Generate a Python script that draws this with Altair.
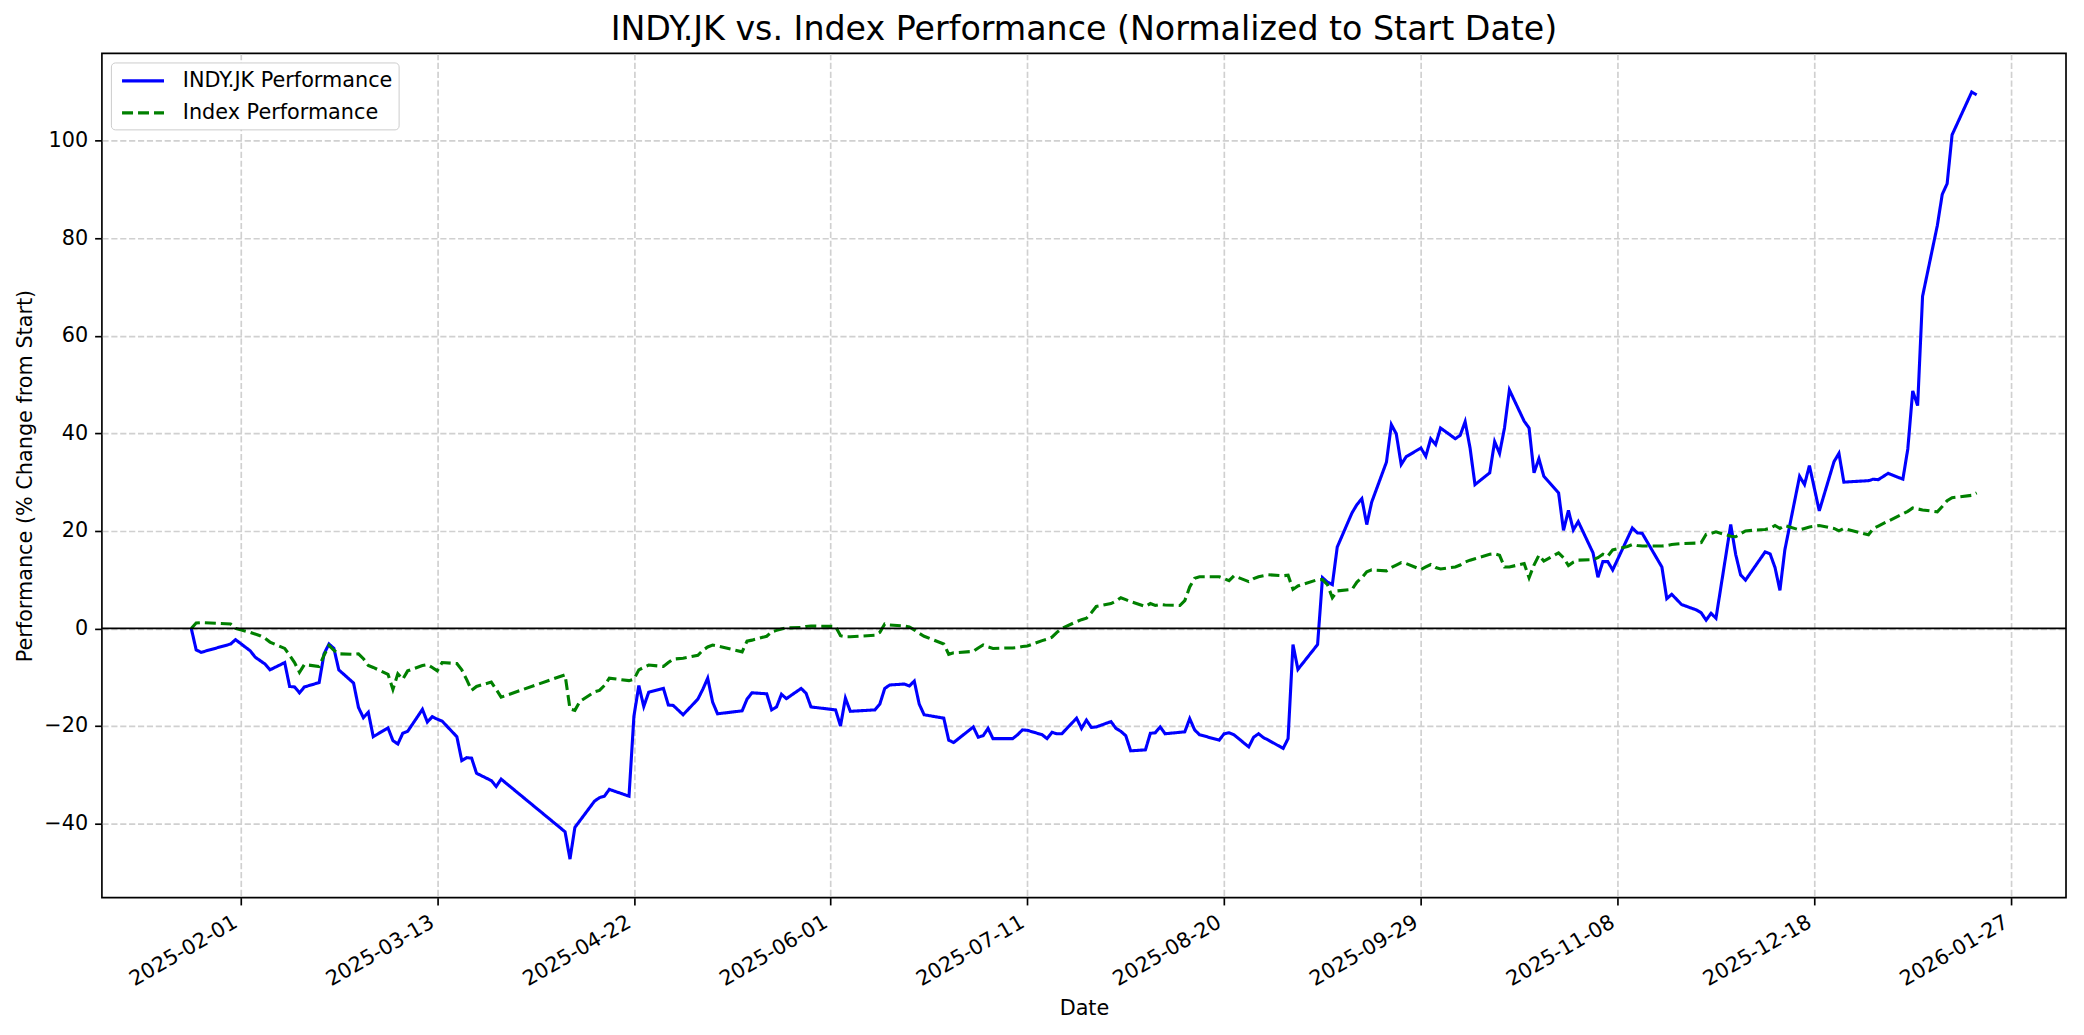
import altair as alt
import pandas as pd

STOCK = "INDY.JK Performance"
INDEX = "Index Performance"

stock_dates = [
    "2025-01-22", "2025-01-23", "2025-01-24", "2025-01-30", "2025-01-31", "2025-02-03", "2025-02-04",
    "2025-02-05", "2025-02-06", "2025-02-07", "2025-02-10", "2025-02-11", "2025-02-12", "2025-02-13",
    "2025-02-14", "2025-02-17", "2025-02-18", "2025-02-19", "2025-02-20", "2025-02-21", "2025-02-24",
    "2025-02-25", "2025-02-26", "2025-02-27", "2025-02-28", "2025-03-03", "2025-03-04", "2025-03-05",
    "2025-03-06", "2025-03-07", "2025-03-10", "2025-03-11", "2025-03-12", "2025-03-13", "2025-03-14",
    "2025-03-17", "2025-03-18", "2025-03-19", "2025-03-20", "2025-03-21", "2025-03-24", "2025-03-25",
    "2025-03-26", "2025-04-08", "2025-04-09", "2025-04-10", "2025-04-14", "2025-04-15", "2025-04-16",
    "2025-04-17", "2025-04-21", "2025-04-22", "2025-04-23", "2025-04-24", "2025-04-25", "2025-04-28",
    "2025-04-29", "2025-04-30", "2025-05-02", "2025-05-05", "2025-05-06", "2025-05-07", "2025-05-08",
    "2025-05-09", "2025-05-14", "2025-05-15", "2025-05-16", "2025-05-19", "2025-05-20", "2025-05-21",
    "2025-05-22", "2025-05-23", "2025-05-26", "2025-05-27", "2025-05-28", "2025-06-02", "2025-06-03",
    "2025-06-04", "2025-06-05", "2025-06-10", "2025-06-11", "2025-06-12", "2025-06-13", "2025-06-16",
    "2025-06-17", "2025-06-18", "2025-06-19", "2025-06-20", "2025-06-24", "2025-06-25", "2025-06-26",
    "2025-06-30", "2025-07-01", "2025-07-02", "2025-07-03", "2025-07-04", "2025-07-07", "2025-07-08",
    "2025-07-09", "2025-07-10", "2025-07-11", "2025-07-14", "2025-07-15", "2025-07-16", "2025-07-17",
    "2025-07-18", "2025-07-21", "2025-07-22", "2025-07-23", "2025-07-24", "2025-07-25", "2025-07-28",
    "2025-07-29", "2025-07-30", "2025-07-31", "2025-08-01", "2025-08-04", "2025-08-05", "2025-08-06",
    "2025-08-07", "2025-08-08", "2025-08-11", "2025-08-12", "2025-08-13", "2025-08-14", "2025-08-15",
    "2025-08-19", "2025-08-20", "2025-08-21", "2025-08-22", "2025-08-25", "2025-08-26", "2025-08-27",
    "2025-08-28", "2025-08-29", "2025-09-01", "2025-09-02", "2025-09-03", "2025-09-04", "2025-09-08",
    "2025-09-09", "2025-09-10", "2025-09-11", "2025-09-12", "2025-09-15", "2025-09-16", "2025-09-17",
    "2025-09-18", "2025-09-19", "2025-09-22", "2025-09-23", "2025-09-24", "2025-09-25", "2025-09-26",
    "2025-09-29", "2025-09-30", "2025-10-01", "2025-10-02", "2025-10-03", "2025-10-06", "2025-10-07",
    "2025-10-08", "2025-10-09", "2025-10-10", "2025-10-13", "2025-10-14", "2025-10-15", "2025-10-16",
    "2025-10-17", "2025-10-20", "2025-10-21", "2025-10-22", "2025-10-23", "2025-10-24", "2025-10-27",
    "2025-10-28", "2025-10-29", "2025-10-30", "2025-10-31", "2025-11-03", "2025-11-04", "2025-11-05",
    "2025-11-06", "2025-11-07", "2025-11-11", "2025-11-12", "2025-11-13", "2025-11-17", "2025-11-18",
    "2025-11-19", "2025-11-21", "2025-11-24", "2025-11-25", "2025-11-26", "2025-11-27", "2025-11-28",
    "2025-12-01", "2025-12-02", "2025-12-03", "2025-12-04", "2025-12-08", "2025-12-09", "2025-12-10",
    "2025-12-11", "2025-12-12", "2025-12-15", "2025-12-16", "2025-12-17", "2025-12-19", "2025-12-22",
    "2025-12-23", "2025-12-24", "2025-12-29", "2025-12-30", "2025-12-31", "2026-01-02", "2026-01-05",
    "2026-01-06", "2026-01-07", "2026-01-08", "2026-01-09", "2026-01-12", "2026-01-13", "2026-01-14",
    "2026-01-15", "2026-01-19", "2026-01-20",
]
stock_values = [
    0.0, -4.4, -4.9, -3.2, -2.3, -4.6, -5.9,
    -6.6, -7.3, -8.5, -7.0, -11.9, -12.0, -13.2,
    -12.0, -11.1, -5.2, -3.2, -4.1, -8.5, -11.2,
    -16.2, -18.3, -17.2, -22.2, -20.4, -23.0, -23.7,
    -21.5, -21.1, -16.6, -19.2, -18.1, -18.6, -19.0,
    -22.2, -27.1, -26.5, -26.6, -29.7, -31.2, -32.4,
    -30.9, -41.7, -47.3, -40.8, -35.4, -34.7, -34.4,
    -33.0, -34.4, -18.0, -11.7, -16.0, -13.1, -12.3,
    -15.7, -15.8, -17.7, -14.5, -12.5, -10.2, -15.1,
    -17.5, -16.9, -14.5, -13.2, -13.4, -16.7, -16.1,
    -13.5, -14.4, -12.3, -13.3, -16.1, -16.7, -20.0,
    -14.3, -17.0, -16.7, -15.5, -12.3, -11.6, -11.4,
    -11.8, -10.8, -15.5, -17.7, -18.4, -22.9, -23.4,
    -20.2, -22.3, -22.0, -20.5, -22.6, -22.6, -22.6,
    -21.8, -20.8, -20.9, -21.8, -22.6, -21.3, -21.6,
    -21.6, -18.4, -20.5, -18.8, -20.3, -20.2, -19.1,
    -20.5, -21.1, -22.0, -25.1, -24.9, -21.5, -21.4,
    -20.2, -21.6, -21.3, -21.2, -18.5, -20.8, -21.8,
    -22.9, -21.6, -21.4, -21.8, -24.3, -22.3, -21.6,
    -22.4, -22.9, -24.6, -22.6, -3.3, -8.4, -3.3,
    10.4, 9.5, 9.0, 16.7, 23.7, 25.4, 26.6,
    21.3, 25.9, 34.1, 41.8, 39.9, 33.6, 35.2,
    37.0, 35.3, 38.9, 37.7, 41.1, 38.9, 39.6,
    42.4, 37.0, 29.5, 31.9, 38.3, 35.9, 41.1,
    48.9, 42.5, 41.1, 31.9, 34.8, 31.2, 27.8,
    20.1, 24.2, 20.2, 21.9, 15.5, 10.5, 13.7,
    13.7, 12.0, 20.6, 19.6, 19.5, 12.6, 6.1,
    7.0, 4.9, 3.8, 3.2, 1.7, 3.1, 2.1,
    21.3, 15.2, 11.0, 9.9, 15.7, 15.3, 12.5,
    7.8, 16.1, 31.2, 29.5, 33.4, 24.1, 34.2,
    35.9, 30.0, 30.3, 30.6, 30.5, 31.8, 30.6,
    36.8, 48.7, 45.7, 68.1, 82.6, 89.0, 91.2,
    101.2, 110.0, 109.4,
]

index_dates = [
    "2025-01-22", "2025-01-23", "2025-01-24", "2025-01-30", "2025-01-31", "2025-02-03", "2025-02-05",
    "2025-02-06", "2025-02-07", "2025-02-10", "2025-02-11", "2025-02-12", "2025-02-13", "2025-02-14",
    "2025-02-17", "2025-02-18", "2025-02-19", "2025-02-20", "2025-02-21", "2025-02-24", "2025-02-25",
    "2025-02-26", "2025-02-27", "2025-02-28", "2025-03-03", "2025-03-04", "2025-03-05", "2025-03-06",
    "2025-03-07", "2025-03-10", "2025-03-11", "2025-03-12", "2025-03-13", "2025-03-14", "2025-03-17",
    "2025-03-18", "2025-03-19", "2025-03-20", "2025-03-21", "2025-03-24", "2025-03-25", "2025-03-26",
    "2025-04-08", "2025-04-09", "2025-04-10", "2025-04-11", "2025-04-14", "2025-04-15", "2025-04-16",
    "2025-04-17", "2025-04-21", "2025-04-22", "2025-04-23", "2025-04-24", "2025-04-25", "2025-04-28",
    "2025-04-29", "2025-04-30", "2025-05-02", "2025-05-05", "2025-05-06", "2025-05-07", "2025-05-08",
    "2025-05-09", "2025-05-14", "2025-05-15", "2025-05-16", "2025-05-19", "2025-05-20", "2025-05-21",
    "2025-05-22", "2025-05-23", "2025-05-26", "2025-05-27", "2025-05-28", "2025-06-02", "2025-06-03",
    "2025-06-04", "2025-06-05", "2025-06-10", "2025-06-11", "2025-06-12", "2025-06-13", "2025-06-16",
    "2025-06-17", "2025-06-18", "2025-06-19", "2025-06-20", "2025-06-24", "2025-06-25", "2025-06-26",
    "2025-06-30", "2025-07-01", "2025-07-02", "2025-07-03", "2025-07-04", "2025-07-07", "2025-07-08",
    "2025-07-09", "2025-07-10", "2025-07-11", "2025-07-14", "2025-07-15", "2025-07-16", "2025-07-17",
    "2025-07-18", "2025-07-21", "2025-07-22", "2025-07-23", "2025-07-24", "2025-07-25", "2025-07-28",
    "2025-07-29", "2025-07-30", "2025-07-31", "2025-08-01", "2025-08-04", "2025-08-05", "2025-08-06",
    "2025-08-07", "2025-08-08", "2025-08-11", "2025-08-12", "2025-08-13", "2025-08-14", "2025-08-15",
    "2025-08-19", "2025-08-20", "2025-08-21", "2025-08-22", "2025-08-25", "2025-08-26", "2025-08-27",
    "2025-08-28", "2025-08-29", "2025-09-01", "2025-09-02", "2025-09-03", "2025-09-04", "2025-09-08",
    "2025-09-09", "2025-09-10", "2025-09-11", "2025-09-12", "2025-09-15", "2025-09-16", "2025-09-17",
    "2025-09-18", "2025-09-19", "2025-09-22", "2025-09-23", "2025-09-24", "2025-09-25", "2025-09-26",
    "2025-09-29", "2025-09-30", "2025-10-01", "2025-10-02", "2025-10-03", "2025-10-06", "2025-10-07",
    "2025-10-08", "2025-10-09", "2025-10-10", "2025-10-13", "2025-10-14", "2025-10-15", "2025-10-16",
    "2025-10-17", "2025-10-20", "2025-10-21", "2025-10-22", "2025-10-23", "2025-10-24", "2025-10-27",
    "2025-10-28", "2025-10-29", "2025-10-30", "2025-10-31", "2025-11-03", "2025-11-04", "2025-11-05",
    "2025-11-06", "2025-11-07", "2025-11-10", "2025-11-11", "2025-11-12", "2025-11-13", "2025-11-17",
    "2025-11-18", "2025-11-19", "2025-11-20", "2025-11-21", "2025-11-24", "2025-11-25", "2025-11-26",
    "2025-11-27", "2025-11-28", "2025-12-01", "2025-12-02", "2025-12-03", "2025-12-04", "2025-12-08",
    "2025-12-09", "2025-12-10", "2025-12-11", "2025-12-12", "2025-12-15", "2025-12-16", "2025-12-17",
    "2025-12-19", "2025-12-22", "2025-12-23", "2025-12-24", "2025-12-29", "2025-12-30", "2025-12-31",
    "2026-01-02", "2026-01-05", "2026-01-06", "2026-01-07", "2026-01-08", "2026-01-09", "2026-01-12",
    "2026-01-13", "2026-01-14", "2026-01-15", "2026-01-19", "2026-01-20",
]
index_values = [
    0.0, 1.1, 1.2, 0.9, 0.0, -0.8, -1.5,
    -2.0, -2.8, -4.1, -5.5, -7.0, -9.0, -7.4,
    -7.8, -5.5, -3.5, -4.5, -5.2, -5.3, -5.2,
    -6.2, -7.6, -8.0, -9.4, -12.5, -9.3, -10.4,
    -8.7, -7.6, -7.4, -8.0, -8.7, -7.0, -7.2,
    -8.5, -10.5, -12.7, -11.9, -11.0, -12.5, -14.1,
    -9.5, -16.5, -16.8, -15.0, -13.0, -12.7, -11.7,
    -10.2, -10.7, -10.4, -8.5, -8.0, -7.5, -7.8,
    -7.0, -6.3, -6.1, -5.5, -4.5, -3.8, -3.4,
    -3.6, -4.8, -2.6, -2.4, -1.6, -0.7, -0.4,
    -0.1, 0.1, 0.2, 0.4, 0.5, 0.4, -1.5,
    -1.7, -1.7, -1.4, -0.8, 0.9, 0.7, 0.5,
    0.3, -0.3, -1.0, -1.6, -3.2, -5.3, -5.0,
    -4.7, -4.0, -3.4, -3.8, -4.1, -4.0, -4.0,
    -3.9, -3.7, -3.6, -2.5, -2.2, -1.8, -0.8,
    0.0, 1.4, 1.8, 2.1, 3.2, 4.5, 5.1,
    5.6, 6.3, 5.9, 5.5, 4.5, 5.1, 4.7,
    4.9, 4.8, 4.7, 5.7, 8.5, 10.3, 10.6,
    10.6, 10.2, 9.8, 10.8, 9.6, 10.2, 10.6,
    10.8, 11.0, 10.8, 10.9, 8.0, 8.7, 10.0,
    10.0, 9.0, 6.3, 7.7, 8.0, 9.5, 10.4,
    11.6, 12.0, 11.8, 12.5, 13.0, 13.5, 13.3,
    12.1, 12.6, 13.1, 12.5, 12.2, 12.6, 13.0,
    13.6, 14.0, 14.3, 15.2, 15.3, 15.0, 12.6,
    12.6, 13.3, 10.4, 13.0, 15.0, 13.8, 15.5,
    14.5, 12.9, 13.6, 14.0, 14.1, 14.5, 15.2,
    14.8, 16.1, 16.8, 17.2, 17.0, 16.9, 16.9,
    17.0, 17.2, 17.3, 17.4, 17.5, 17.6, 19.3,
    19.5, 19.8, 18.9, 18.8, 19.4, 20.0, 20.3,
    20.5, 21.1, 20.5, 21.1, 20.2, 20.5, 20.8,
    21.1, 20.5, 20.0, 20.5, 19.2, 20.5, 21.0,
    22.0, 23.5, 24.0, 24.7, 24.5, 24.3, 23.9,
    25.0, 26.2, 26.8, 27.3, 27.8,
]

x_tick_dates = ["2025-02-01", "2025-03-13", "2025-04-22", "2025-06-01", "2025-07-11",
                "2025-08-20", "2025-09-29", "2025-11-08", "2025-12-18", "2026-01-27"]
y_ticks = [-40, -20, 0, 20, 40, 60, 80, 100]

df = pd.concat([
    pd.DataFrame({"date": stock_dates, "value": stock_values, "series": STOCK}),
    pd.DataFrame({"date": index_dates, "value": index_values, "series": INDEX}),
], ignore_index=True)


def dt(s, hours=0):
    y, m, d = (int(p) for p in s.split("-"))
    return alt.DateTime(year=y, month=m, date=d, hours=hours, utc=True)


FONT = "DejaVu Sans"
FS = 20.8

x_scale = alt.Scale(type="utc", domain=[dt("2025-01-03", 20), dt("2026-02-07", 4)])
y_scale = alt.Scale(domain=[-55.2, 117.9], nice=False, zero=False)

legend_props = dict(
    title=None, orient="top-left", offset=9,
    symbolType="M-0.7,0L3.3,0", symbolSize=441,
    symbolStrokeWidth=3.1, labelFontSize=FS, labelFont=FONT, labelColor="black",
    labelOffset=41, fillColor="white", strokeColor="#cccccc", cornerRadius=4,
    padding=6, rowPadding=9, labelLimit=500,
)

base = alt.Chart(df)

lines = base.mark_line(strokeWidth=3.1, clip=True).encode(
    x=alt.X("date:T", scale=x_scale, title="Date",
            axis=alt.Axis(values=[dt(s) for s in x_tick_dates], format="%Y-%m-%d",
                          labelAngle=-30, labelAlign="right", labelBaseline="top",
                          labelOffset=-10, labelPadding=7, labelOverlap=False,
                          titlePadding=9)),
    y=alt.Y("value:Q", scale=y_scale, title="Performance (% Change from Start)",
            axis=alt.Axis(values=y_ticks, format="d", labelPadding=7)),
    color=alt.Color("series:N",
                    scale=alt.Scale(domain=[STOCK, INDEX], range=["#0000ff", "#008000"]),
                    legend=alt.Legend(**legend_props)),
    strokeDash=alt.StrokeDash("series:N",
                              scale=alt.Scale(domain=[STOCK, INDEX], range=[[1, 0], [11, 5]]),
                              legend=alt.Legend(**legend_props)),
)

zero = alt.Chart(pd.DataFrame({"v": [0]})).mark_rule(color="black", strokeWidth=1.67).encode(
    y=alt.Y("v:Q", scale=y_scale)
)

chart = alt.layer(lines, zero).properties(
    width=1966,
    height=845,
    background="white",
    padding={"left": 94, "top": 45, "right": 10, "bottom": 128},
    autosize=alt.AutoSizeParams(type="none"),
    title=alt.TitleParams(
        "INDY.JK vs. Index Performance (Normalized to Start Date)",
        fontSize=33.3, font=FONT, fontWeight="normal", color="black",
        anchor="middle", offset=6,
    ),
).configure_view(
    stroke="black", strokeWidth=1.67
).configure_axis(
    labelFont=FONT, labelFontSize=FS, labelColor="black",
    titleFont=FONT, titleFontSize=FS, titleFontWeight="normal", titleColor="black",
    tickColor="black", tickWidth=1.67, tickSize=7.3, domain=False,
    grid=True, gridColor="#d0d0d0", gridWidth=1.67, gridDash=[6.2, 2.7],
    titlePadding=8,
)

chart.save("out.html", embed_options={"renderer": "svg", "actions": False})
